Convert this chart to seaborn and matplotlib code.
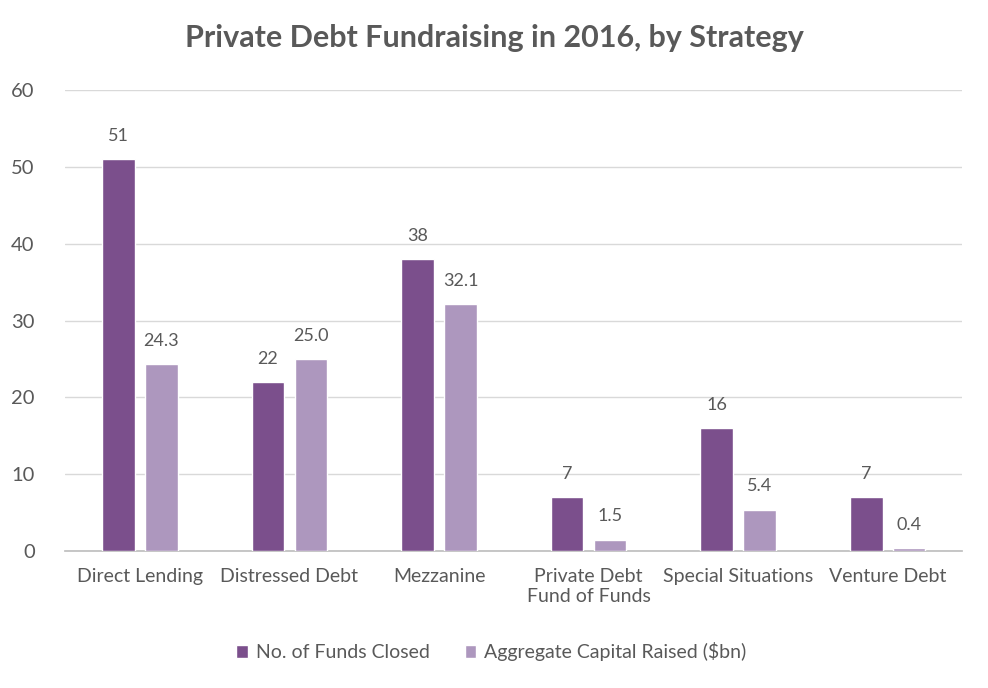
import pandas as pd
import matplotlib.pyplot as plt
import seaborn as sns

strategies = ["Direct Lending", "Distressed Debt", "Mezzanine",
              "Private Debt\nFund of Funds", "Special Situations", "Venture Debt"]
funds_closed = [51, 22, 38, 7, 16, 7]
capital_raised = [24.3, 25.0, 32.1, 1.5, 5.4, 0.4]
series_names = ["No. of Funds Closed", "Aggregate Capital Raised ($bn)"]
y_ticks = [0, 10, 20, 30, 40, 50, 60]

df = pd.DataFrame({
    "Strategy": strategies * 2,
    "Value": funds_closed + capital_raised,
    "Series": [series_names[0]] * len(strategies) + [series_names[1]] * len(strategies),
})

sns.set_theme(style="white")
plt.rcParams['font.family'] = ['Lato', 'DejaVu Sans']
text_color = "#595959"

fig = plt.figure(figsize=(9.88, 6.88), dpi=100)
ax = fig.add_axes([0.066, 0.199, 0.908, 0.67])

palette = {series_names[0]: "#7B4F8C", series_names[1]: "#AD97BE"}
sns.barplot(data=df, x="Strategy", y="Value", hue="Series", palette=palette,
            width=0.575, gap=0.235, saturation=1, ax=ax, zorder=3)

# value labels
for container, fmt in zip(ax.containers, ["{:.0f}", "{:.1f}"]):
    labels = [fmt.format(b.get_height()) for b in container]
    ax.bar_label(container, labels=labels, padding=11, fontsize=13, color=text_color)

ax.set_ylim(0, 60)
ax.set_yticks(y_ticks)
ax.yaxis.grid(True, color="#D9D9D9", linewidth=1, zorder=0)
ax.set_axisbelow(True)
for side in ["top", "right", "left"]:
    ax.spines[side].set_visible(False)
ax.spines["bottom"].set_color("#BFBFBF")
ax.tick_params(axis="both", length=0, colors=text_color)
ax.tick_params(axis="x", labelsize=14, pad=12)
ax.tick_params(axis="y", labelsize=14.5, pad=22)
ax.set_xlabel("")
ax.set_ylabel("")
ax.set_xlim(-0.5, len(strategies) - 0.5)

fig.suptitle("Private Debt Fundraising in 2016, by Strategy", x=0.5, y=0.965,
             fontsize=22, fontweight="bold", color=text_color)

ax.legend(loc="upper center", bbox_to_anchor=(0.475, -0.16), ncol=2, frameon=False,
          fontsize=14, labelcolor=text_color, handlelength=0.6, handleheight=0.6,
          columnspacing=1.8, handletextpad=0.4)

fig.savefig("out.png", dpi=100)
